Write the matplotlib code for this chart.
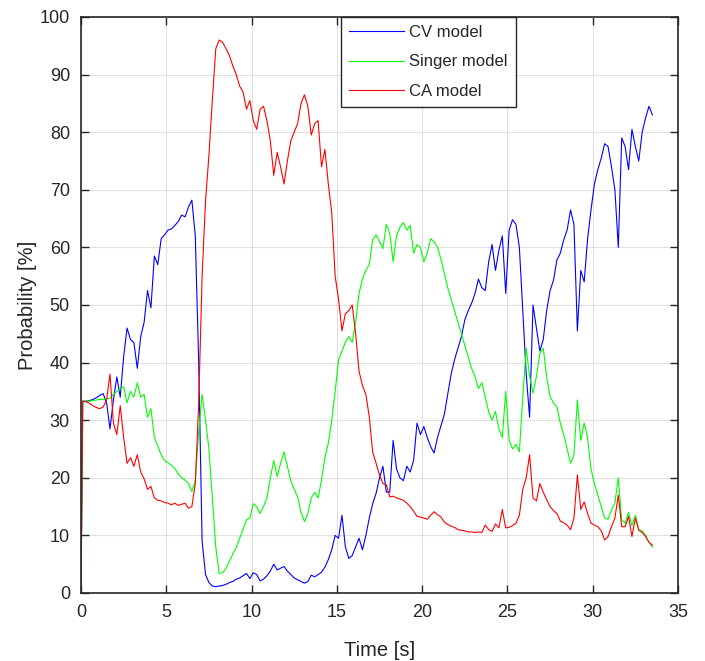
import numpy as np
import matplotlib.pyplot as plt

plt.rcParams['font.family'] = ['Liberation Sans', 'DejaVu Sans']

# time axis: start point, then 0.1 .. 33.5 s every 0.2 s
time_s = np.r_[0.0, np.round(np.arange(0.1, 33.6, 0.2), 1)]

# model probabilities [%]
cv_model = [0.0,
    33.3, 33.3, 33.4, 33.6, 33.9, 34.3, 34.6, 33.0, 28.5, 33.5,
    37.5, 34.0, 41.0, 46.0, 44.0, 43.5, 39.0, 44.5, 47.0, 52.5,
    49.5, 58.5, 57.0, 61.5, 62.2, 63.0, 63.2, 63.8, 64.5, 65.6,
    65.3, 67.0, 68.2, 62.0, 40.0, 9.0, 3.2, 1.8, 1.2, 1.1,
    1.2, 1.3, 1.5, 1.8, 2.0, 2.4, 2.6, 3.0, 3.4, 2.5,
    3.5, 3.2, 2.1, 2.4, 3.0, 3.8, 5.0, 4.0, 4.3, 4.6,
    3.8, 3.2, 2.6, 2.3, 2.0, 1.7, 2.0, 3.1, 2.8, 3.2,
    3.6, 4.5, 5.8, 7.5, 10.0, 9.5, 13.5, 8.0, 6.0, 6.5,
    8.0, 9.5, 7.5, 10.0, 13.0, 15.5, 17.3, 20.0, 22.0, 17.5,
    17.5, 26.5, 21.5, 20.0, 19.5, 22.0, 21.0, 23.0, 29.5, 27.5,
    28.9, 27.0, 25.4, 24.3, 27.0, 29.0, 31.0, 34.5, 38.0, 40.5,
    42.5, 44.5, 47.4, 49.0, 50.3, 52.0, 54.5, 53.0, 52.5, 57.5,
    60.5, 56.0, 59.5, 62.0, 52.0, 63.0, 64.8, 64.0, 60.0, 49.0,
    38.0, 30.5, 50.0, 46.0, 42.0, 44.0, 49.0, 52.5, 54.3, 57.8,
    59.0, 61.3, 63.0, 66.5, 64.0, 45.5, 56.0, 54.0, 61.5, 66.5,
    71.0, 73.5, 75.5, 78.0, 77.5, 74.0, 70.0, 60.0, 79.0, 77.5,
    73.5, 80.5, 77.5, 75.0, 80.0, 82.5, 84.5, 83.0]

singer_model = [0.0,
    33.3, 33.3, 33.3, 33.4, 33.5, 33.6, 33.6, 33.7, 33.8, 34.5,
    35.0, 35.5, 35.8, 33.0, 35.0, 34.0, 36.5, 34.0, 34.5, 30.5,
    32.0, 27.0, 25.5, 24.0, 23.0, 22.6, 22.2, 21.6, 20.7, 20.0,
    19.6, 19.0, 17.6, 19.5, 28.0, 34.5, 30.0, 25.0, 16.5, 8.0,
    3.4, 3.5, 4.3, 5.5, 6.8, 7.9, 9.5, 11.0, 12.7, 13.0,
    15.5, 15.0, 13.8, 15.0, 16.5, 20.0, 23.0, 20.2, 22.5, 24.5,
    22.0, 19.5, 18.0, 16.7, 14.0, 12.4, 13.8, 16.5, 17.5, 16.5,
    19.6, 23.5, 26.0, 30.0, 35.0, 40.5, 42.0, 43.5, 44.5, 43.5,
    47.0, 52.0, 54.5, 56.0, 57.0, 61.3, 62.2, 61.0, 59.8, 64.0,
    62.5, 57.5, 62.0, 63.5, 64.3, 63.0, 63.8, 59.0, 60.5, 60.0,
    57.5, 59.0, 61.5, 61.0, 60.0, 58.0, 55.5, 53.0, 51.0, 49.0,
    47.0, 45.0, 43.0, 41.0, 39.0, 37.6, 35.5, 36.5, 34.0, 31.5,
    30.0, 31.5, 28.5, 27.0, 35.0, 26.5, 25.0, 25.8, 24.5, 34.0,
    42.5, 37.6, 34.7, 37.6, 41.6, 42.5, 37.6, 34.1, 33.0, 32.3,
    29.5, 27.5, 25.0, 22.5, 24.0, 33.5, 26.5, 29.5, 27.0, 21.5,
    19.0, 17.0, 15.0, 13.0, 12.8, 14.4, 15.6, 20.0, 12.7, 12.1,
    14.0, 11.7, 13.5, 11.0, 10.8, 10.0, 8.8, 8.0]

ca_model = [0.0,
    33.3, 33.2, 32.9, 32.5, 32.2, 32.0, 32.3, 33.5, 38.0, 29.5,
    27.5, 32.5, 27.0, 22.5, 23.5, 22.0, 24.0, 21.0, 19.8, 18.0,
    18.5, 16.5, 16.1, 16.0, 15.7, 15.6, 15.3, 15.6, 15.2, 15.4,
    15.6, 14.7, 15.0, 19.0, 33.0, 55.0, 68.0, 76.0, 85.6, 94.5,
    96.0, 95.6, 94.5, 93.3, 91.5, 90.0, 88.0, 87.0, 84.0, 85.5,
    82.0, 80.5, 84.0, 84.5, 82.0, 78.5, 72.5, 76.5, 74.0, 71.0,
    75.0, 78.5, 80.0, 81.5, 85.0, 86.5, 84.5, 79.5, 81.5, 82.0,
    74.0, 77.0, 71.0, 66.0, 55.0, 51.0, 45.5, 48.5, 49.0, 50.0,
    45.0, 38.5, 36.0, 34.5, 30.6, 24.5, 22.5, 20.5, 19.0, 18.8,
    16.7, 16.8, 16.5, 16.3, 16.1, 15.6, 15.0, 14.2, 13.3, 13.2,
    13.0, 12.8, 13.5, 14.1, 13.6, 13.2, 12.3, 11.9, 11.6, 11.4,
    11.0, 10.9, 10.8, 10.6, 10.6, 10.5, 10.6, 10.5, 11.8, 11.0,
    10.7, 12.0, 11.3, 14.5, 11.3, 11.4, 11.7, 12.1, 13.5, 18.0,
    20.0, 24.0, 16.5, 16.0, 19.0, 17.5, 16.2, 15.0, 14.3, 13.8,
    12.5, 12.2, 11.8, 11.0, 13.0, 20.5, 14.5, 15.8, 13.8, 12.1,
    11.8, 11.5, 10.8, 9.2, 9.8, 11.5, 13.0, 17.0, 11.5, 11.5,
    13.3, 9.8, 13.0, 10.9, 10.5, 9.8, 8.8, 8.3]

series_names = ['CV model', 'Singer model', 'CA model']
series_colors = ['#0000ff', '#00ff00', '#ff0000']

fig = plt.figure(figsize=(7.05, 6.61), dpi=100)
ax = fig.add_axes([0.1149, 0.1029, 0.8468, 0.8714])

for vals, name, col in zip([cv_model, singer_model, ca_model], series_names, series_colors):
    ax.plot(time_s, vals, color=col, lw=0.8, label=name)

ax.set_xlim(0, 35)
ax.set_ylim(0, 100)
ax.set_xticks(np.arange(0, 36, 5))
ax.set_yticks(np.arange(0, 101, 10))
ax.grid(True, color='#e0e0e0', lw=0.8)
ax.set_axisbelow(True)

dark = '#262626'
for s in ax.spines.values():
    s.set_color(dark)
    s.set_linewidth(1.2)
ax.tick_params(direction='in', length=6, width=1, colors=dark, labelsize=13,
               top=True, right=True, pad=8)
ax.set_xlabel('Time [s]', fontsize=14.5, color=dark, labelpad=14)
ax.set_ylabel('Probability [%]', fontsize=14.5, color=dark, labelpad=2)

leg = ax.legend(loc='upper left', bbox_to_anchor=(0.4355, 1.0), borderaxespad=0,
                fontsize=12, handlelength=3.3, handletextpad=0.3, labelspacing=0.85,
                borderpad=0.5, fancybox=False, framealpha=1, edgecolor=dark)
leg.get_frame().set_linewidth(1.0)
for t in leg.get_texts():
    t.set_color(dark)

fig.savefig('out.png', dpi=100)
